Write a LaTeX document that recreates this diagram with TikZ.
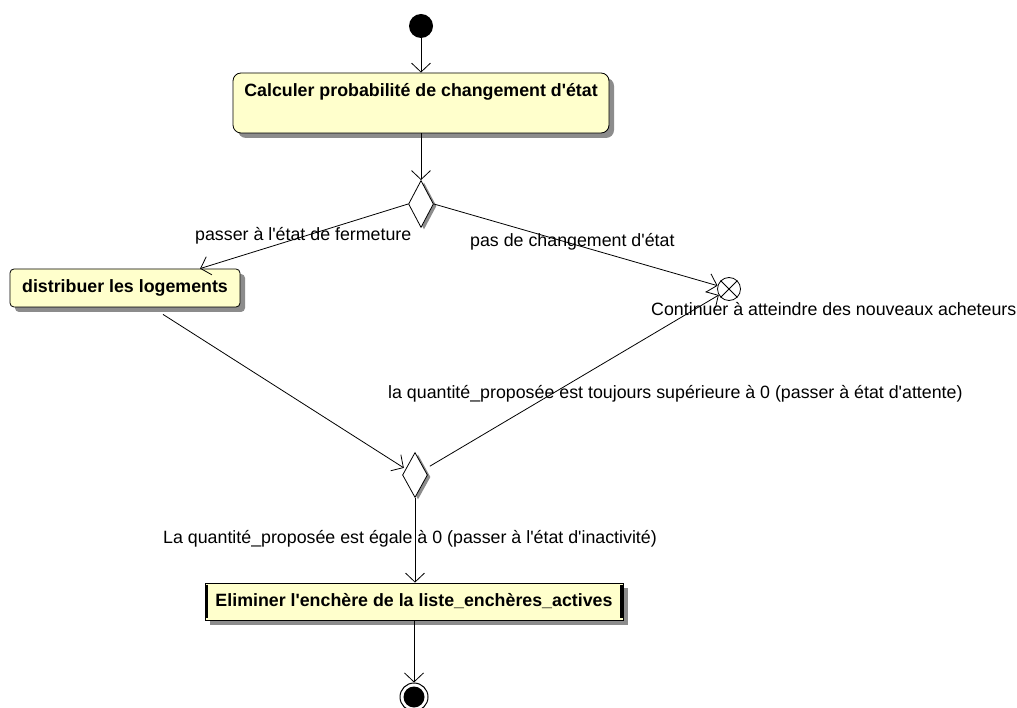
\documentclass[tikz,border=0pt]{standalone}
\usepackage{fontspec}
\setmainfont{Liberation Sans}
\usetikzlibrary{arrows.meta,shapes.geometric,shadows}
\definecolor{actfill}{HTML}{FFFFCC}
\definecolor{shadowgray}{HTML}{8C8C8C}
\newcommand{\apos}{\textquotesingle}
\begin{document}
\begin{tikzpicture}[x=1pt,y=-1pt,
  txt/.style={font=\fontsize{17.8pt}{20pt}\selectfont, inner sep=0pt},
  btxt/.style={font=\fontsize{17.8pt}{20pt}\selectfont\bfseries},
  actbox/.style={draw, line width=0.8pt, fill=actfill, rounded corners=5pt,
    general shadow={fill=shadowgray, shadow xshift=5pt, shadow yshift=-5pt},
    btxt, inner sep=0pt},
  dec/.style={diamond, draw, line width=0.8pt, fill=white, minimum width=25pt, minimum height=47pt, inner sep=0pt,
    general shadow={fill=shadowgray, shadow xshift=3pt, shadow yshift=-2pt}},
  flow/.style={draw, line width=0.8pt, -{Straight Barb[length=9pt,width=19pt]}}
]
\fill[white] (0,0) rectangle (1017,708);
\useasboundingbox (0,0) rectangle (1017,708);

% nodes
\node (start) [circle, fill=black, minimum size=24pt, inner sep=0pt] at (421,26) {};
\node (b1) [actbox, rounded corners=8pt, minimum width=376pt, minimum height=60pt, text height=13pt, text depth=25pt] at (421,103) {Calculer probabilité de changement d\apos état};
\node (d1) [dec] at (421,204) {};
\node (b2) [actbox, rounded corners=4pt, minimum width=230pt, minimum height=38pt] at (125,288) {distribuer les logements};
\node (ff) [circle, draw, line width=0.8pt, fill=white, minimum size=23pt, inner sep=0pt] at (729,289) {};
\draw[line width=0.8pt] (ff.45) -- (ff.225) (ff.135) -- (ff.315);
\node (d2) [dec, minimum height=45pt] at (415,475) {};
\node (b3) [actbox, rounded corners=0pt, minimum width=418pt, minimum height=37pt] at (414,601.5) {Eliminer l\apos enchère de la liste\_enchères\_actives};
\draw[line width=3pt] ([xshift=1.5pt,yshift=-2pt]b3.north west) -- ([xshift=1.5pt,yshift=2pt]b3.south west);
\draw[line width=3pt] ([xshift=-1.5pt,yshift=-2pt]b3.north east) -- ([xshift=-1.5pt,yshift=2pt]b3.south east);
\node (fin) [circle, draw, line width=1pt, fill=white, minimum size=28pt, inner sep=0pt,
  path picture={\fill[black] (path picture bounding box.center) circle[radius=10.5pt];}] at (414,697) {};

% connectors
\draw[flow] (start) -- (b1.north);
\draw[flow] (b1.south) -- (d1.north);
\draw[flow] (d1.west) -- ([xshift=75pt]b2.north);
\draw[flow] (d1.east) -- (ff);
\draw[flow, shorten >=2pt] ([xshift=38pt,yshift=-7pt]b2.south) -- (d2);
\draw[flow, shorten <=6pt] (d2) -- (ff);
\draw[flow] (d2.south) -- (d2.south |- b3.north);
\draw[flow] (b3.south) -- (fin.north);

% labels
\node (l1) [txt, anchor=base west] at (195,241) {passer à l\apos état de fermeture};
\node (l2) [txt, anchor=base west] at (470,247) {pas de changement d\apos état};
\node (l3) [txt, anchor=base west] at (651,316) {Continuer à atteindre des nouveaux acheteurs};
\node (l4) [txt, anchor=base west] at (388,398) {la quantité\_proposée est toujours supérieure à 0 (passer à état d\apos attente)};
\node (l5) [txt, anchor=base west] at (163,543) {La quantité\_proposée est égale à 0 (passer à l\apos état d\apos inactivité)};
\end{tikzpicture}
\end{document}
